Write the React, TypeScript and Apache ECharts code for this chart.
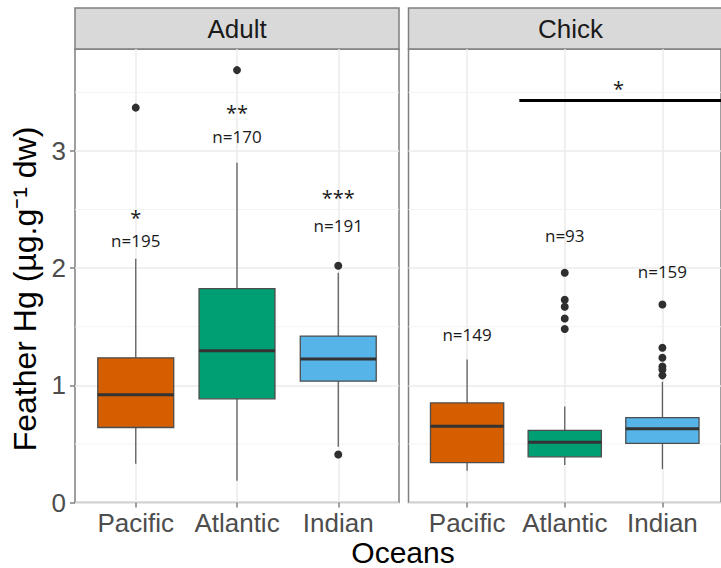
import React, { useEffect, useRef } from 'react';
import * as echarts from 'echarts';

// ---- data ----
const oceans = ['Pacific', 'Atlantic', 'Indian'];
const panels = ['Adult', 'Chick'];
const boxColors = ['#D55E00', '#009E73', '#56B4E9'];
// [lower whisker, Q1, median, Q3, upper whisker]
const adultBoxes = [
  [0.33, 0.64, 0.92, 1.235, 2.08],
  [0.185, 0.885, 1.295, 1.825, 2.9],
  [0.475, 1.035, 1.225, 1.42, 1.96],
];
const chickBoxes = [
  [0.27, 0.34, 0.65, 0.85, 1.22],
  [0.32, 0.39, 0.515, 0.615, 0.82],
  [0.285, 0.505, 0.63, 0.725, 1.03],
];
// [ocean index (1..3), value]
const adultOutliers = [[1, 3.37], [2, 3.69], [3, 2.02], [3, 0.41]];
const chickOutliers = [
  [2, 1.96], [2, 1.73], [2, 1.67], [2, 1.57], [2, 1.48],
  [3, 1.69], [3, 1.32], [3, 1.235], [3, 1.16], [3, 1.135], [3, 1.085],
];
const adultN = ['n=195', 'n=170', 'n=191'];
const adultNY = [2.235, 3.12, 2.36];
const adultSig = ['*', '**', '***'];
const adultSigY = [2.43, 3.33, 2.6];
const chickN = ['n=149', 'n=93', 'n=159'];
const chickNY = [1.43, 2.275, 1.97];
const chickBracketX = [1.535, 3.6];
const chickBracketY = 3.43;
const chickSig = ['*'];
const chickSigX = [2.55];
const chickSigY = [3.53];
const yTicks = [0, 1, 2, 3];
const yMinor = [0.5, 1.5, 2.5, 3.5];
const xTicks = [1, 2, 3];

const GRID_LEFT = [75, 408.5];
const GRID_TOP = 49;
const GRID_W = 324;
const GRID_H = 453.5;
const Y_MAX = 3.87;

function boxSeries(g: number, boxes: number[][]) {
  return {
    type: 'custom',
    xAxisIndex: g,
    yAxisIndex: g,
    z: 3,
    data: boxes.map((b, i) => [i + 1, ...b]),
    renderItem: (params: any, api: any) => {
      const x = api.value(0);
      const lo = api.coord([x, api.value(1)]);
      const q1 = api.coord([x, api.value(2)]);
      const med = api.coord([x, api.value(3)]);
      const q3 = api.coord([x, api.value(4)]);
      const hi = api.coord([x, api.value(5)]);
      const left = api.coord([x - 0.375, 0])[0];
      const right = api.coord([x + 0.375, 0])[0];
      const wStyle = { stroke: '#5f5f5f', lineWidth: 1.3 };
      return {
        type: 'group',
        children: [
          { type: 'line', shape: { x1: lo[0], y1: lo[1], x2: q1[0], y2: q1[1] }, style: wStyle },
          { type: 'line', shape: { x1: q3[0], y1: q3[1], x2: hi[0], y2: hi[1] }, style: wStyle },
          {
            type: 'rect',
            shape: { x: left, y: q3[1], width: right - left, height: q1[1] - q3[1] },
            style: { fill: boxColors[params.dataIndex], stroke: '#4d4d4d', lineWidth: 1.3 },
          },
          {
            type: 'line',
            shape: { x1: left, y1: med[1], x2: right, y2: med[1] },
            style: { stroke: '#333333', lineWidth: 3 },
          },
        ],
      };
    },
  };
}

function minorGridSeries(g: number) {
  return {
    type: 'custom',
    xAxisIndex: g,
    yAxisIndex: g,
    z: 1,
    silent: true,
    data: yMinor.map((v) => [0.4, v]),
    renderItem: (params: any, api: any) => {
      const a = api.coord([0.4, api.value(1)]);
      const b = api.coord([3.6, api.value(1)]);
      return {
        type: 'line',
        shape: { x1: a[0], y1: a[1], x2: b[0], y2: b[1] },
        style: { stroke: '#F3F3F3', lineWidth: 1 },
      };
    },
  };
}

function textSeries(g: number, texts: string[], xs: number[], ys: number[], size: number) {
  return {
    type: 'custom',
    xAxisIndex: g,
    yAxisIndex: g,
    z: 5,
    data: texts.map((t, i) => [xs[i], ys[i]]),
    renderItem: (params: any, api: any) => {
      const p = api.coord([api.value(0), api.value(1)]);
      return {
        type: 'text',
        x: p[0],
        y: p[1],
        style: {
          text: texts[params.dataIndex],
          fontSize: size,
          lineHeight: 16,
          fontFamily: 'Open Sans',
          fill: '#1a1a1a',
          align: 'center',
          verticalAlign: 'middle',
          textAlign: 'center',
          textVerticalAlign: 'middle',
        },
      };
    },
  };
}

function outlierSeries(g: number, pts: number[][]) {
  return {
    type: 'scatter',
    xAxisIndex: g,
    yAxisIndex: g,
    z: 4,
    symbol: 'circle',
    symbolSize: 8,
    itemStyle: { color: '#2f2f2f', opacity: 1 },
    data: pts,
  };
}

export default function App() {
  const ref = useRef<HTMLDivElement>(null);
  useEffect(() => {
    const chart = echarts.init(ref.current!, null, { renderer: 'svg' });
    const grids = [0, 1].map((g) => ({
      left: GRID_LEFT[g],
      top: GRID_TOP,
      width: GRID_W,
      height: GRID_H,
      show: true,
      backgroundColor: '#ffffff',
      borderColor: '#7f7f7f',
      borderWidth: 1.5,
    }));
    const xAxes = [0, 1].map((g) => ({
      type: 'value',
      gridIndex: g,
      min: 0.4,
      max: 3.6,
      axisLine: { show: false },
      axisTick: {
        show: true,
        customValues: xTicks,
        length: 5,
        lineStyle: { color: '#7f7f7f', width: 1.5 },
      },
      axisLabel: {
        customValues: xTicks,
        formatter: (v: number) => oceans[Math.round(v) - 1] ?? '',
        fontSize: 26,
        fontFamily: 'Liberation Sans',
        color: '#4d4d4d',
        margin: 7,
      },
      splitLine: { show: true, lineStyle: { color: '#EBEBEB', width: 1.5 } },
    }));
    const yAxes = [0, 1].map((g) => ({
      type: 'value',
      gridIndex: g,
      min: 0,
      max: Y_MAX,
      axisLine: { show: false },
      axisTick: {
        show: g === 0,
        customValues: yTicks,
        length: 5,
        lineStyle: { color: '#7f7f7f', width: 1.5 },
      },
      axisLabel: {
        show: g === 0,
        customValues: yTicks,
        fontSize: 26,
        fontFamily: 'Liberation Sans',
        color: '#4d4d4d',
        margin: 9,
      },
      splitLine: { show: true, lineStyle: { color: '#EBEBEB', width: 1.5 } },
    }));
    const graphics: any[] = [];
    [0, 1].forEach((g) => {
      graphics.push({
        type: 'rect',
        shape: { x: GRID_LEFT[g], y: 8, width: GRID_W, height: 41 },
        style: { fill: '#D9D9D9', stroke: '#7f7f7f', lineWidth: 1.5 },
      });
      graphics.push({
        type: 'text',
        x: GRID_LEFT[g] + GRID_W / 2,
        y: 29,
        style: {
          text: panels[g],
          fontSize: 26,
          fontFamily: 'Liberation Sans',
          fill: '#1a1a1a',
          textAlign: 'center',
          textVerticalAlign: 'middle',
        },
      });
    });
    graphics.push({
      type: 'text',
      x: 403,
      y: 552,
      style: {
        text: 'Oceans',
        fontSize: 30,
        fontFamily: 'Liberation Sans',
        fill: '#000000',
        textAlign: 'center',
        textVerticalAlign: 'middle',
      },
    });
    graphics.push({
      type: 'text',
      x: 25,
      y: 289,
      rotation: Math.PI / 2,
      style: {
        text: 'Feather Hg (µg.g⁻¹ dw)',
        fontSize: 32,
        fontFamily: 'Liberation Sans',
        fill: '#000000',
        textAlign: 'center',
        textVerticalAlign: 'middle',
      },
    });

    chart.setOption({
      animation: false,
      backgroundColor: '#ffffff',
      grid: grids,
      xAxis: xAxes,
      yAxis: yAxes,
      graphic: graphics,
      series: [
        minorGridSeries(0),
        minorGridSeries(1),
        boxSeries(0, adultBoxes),
        boxSeries(1, chickBoxes),
        outlierSeries(0, adultOutliers),
        outlierSeries(1, chickOutliers),
        textSeries(0, adultN, xTicks, adultNY, 17),
        textSeries(0, adultSig, xTicks, adultSigY, 20),
        textSeries(1, chickN, xTicks, chickNY, 17),
        textSeries(1, chickSig, chickSigX, chickSigY, 20),
        {
          type: 'line',
          xAxisIndex: 1,
          yAxisIndex: 1,
          z: 5,
          symbol: 'none',
          silent: true,
          lineStyle: { color: '#000000', width: 3 },
          data: chickBracketX.map((x) => [x, chickBracketY]),
        },
      ],
    });
    return () => chart.dispose();
  }, []);
  return (
    <div
      ref={ref}
      style={{ position: 'absolute', left: 0, top: 0, width: 721, height: 568 }}
    />
  );
}
